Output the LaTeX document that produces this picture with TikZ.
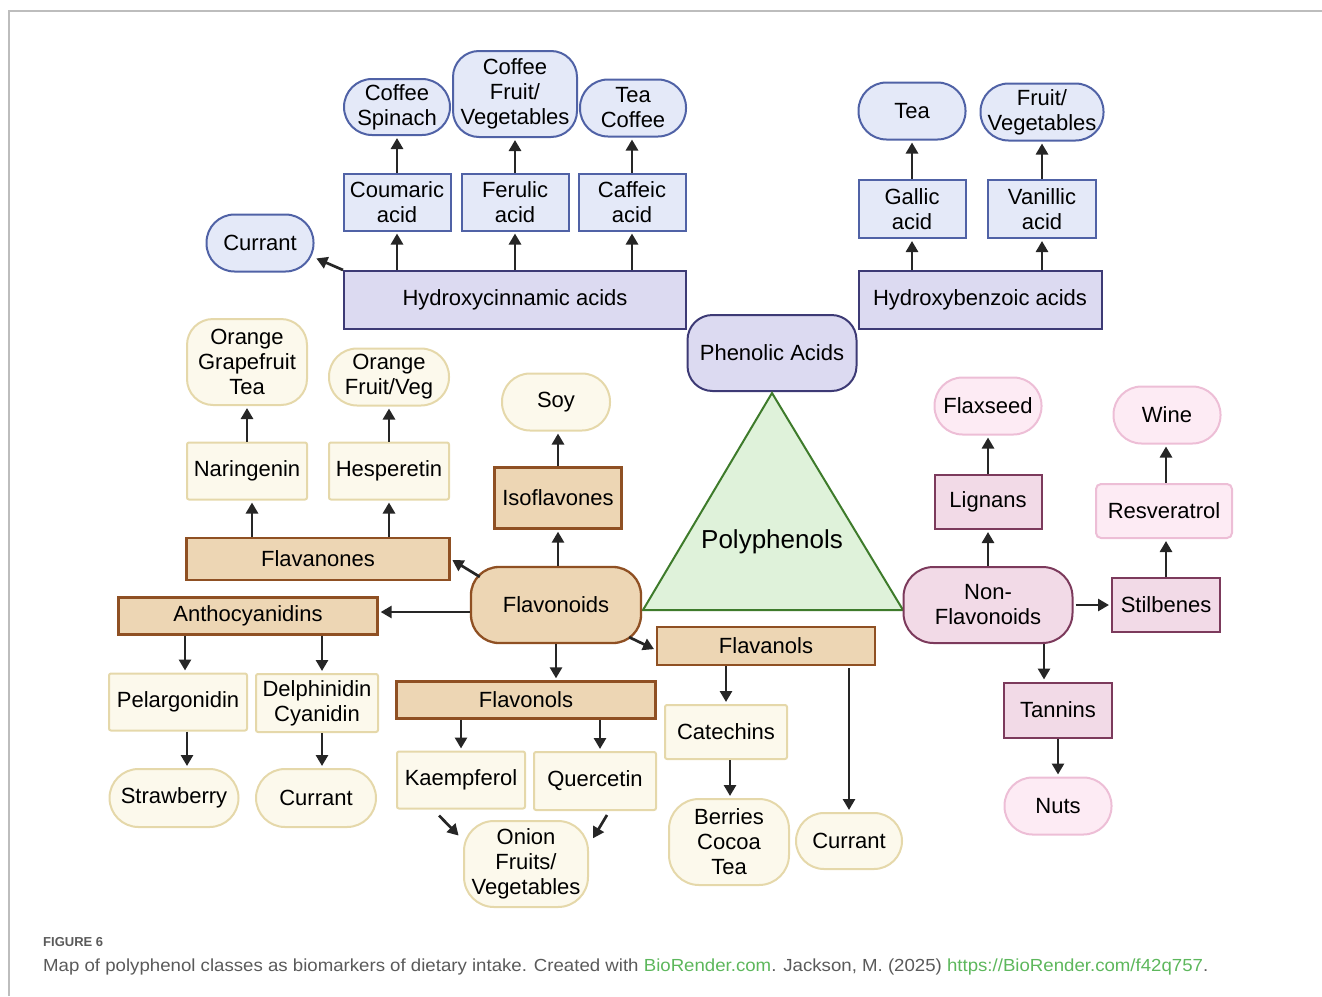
\documentclass[tikz,border=0pt]{standalone}
\usepackage{fontspec}
\setmainfont{Liberation Sans}
\usepackage{graphicx}
\usetikzlibrary{arrows.meta,calc}
\definecolor{blueFill}{HTML}{E4E9F8}
\definecolor{blueLine}{HTML}{5062A6}
\definecolor{lavFill}{HTML}{DCDAF1}
\definecolor{lavLine}{HTML}{3D3A75}
\definecolor{tanFill}{HTML}{EDD6B4}
\definecolor{tanLine}{HTML}{8F5023}
\definecolor{creamFill}{HTML}{FCF9EC}
\definecolor{creamLine}{HTML}{E5D8AA}
\definecolor{pinkFill}{HTML}{F2DAE7}
\definecolor{pinkLine}{HTML}{7C3A5C}
\definecolor{lpinkFill}{HTML}{FDEBF4}
\definecolor{lpinkLine}{HTML}{EDBED6}
\definecolor{triFill}{HTML}{DFF2DA}
\definecolor{triLine}{HTML}{3E7B2B}
\definecolor{arrCol}{HTML}{262626}
\definecolor{capGray}{HTML}{5A5A5A}
\definecolor{capGreen}{HTML}{5DB75C}
\definecolor{frameGray}{HTML}{BDBDBD}
\tikzset{
  basebox/.style={draw, line width=2pt, inner sep=0pt, align=center,
    font=\fontsize{22}{25}\selectfont, text=black},
  bblue/.style={basebox, fill=blueFill, draw=blueLine},
  blav/.style={basebox, fill=lavFill, draw=lavLine},
  btan/.style={basebox, fill=tanFill, draw=tanLine, line width=2.3pt},
  bcream/.style={basebox, fill=creamFill, draw=creamLine, rounded corners=2pt},
  bpink/.style={basebox, fill=pinkFill, draw=pinkLine},
  blpink/.style={basebox, fill=lpinkFill, draw=lpinkLine},
  arr/.style={draw=arrCol, line width=2.7pt, -{Triangle[width=12pt,length=11pt]}, shorten >=2pt},
}
\begin{document}
\begin{tikzpicture}[x=1pt,y=-1pt]
\useasboundingbox (0,0) rectangle (1322,996);
% frame
\draw[frameGray, line width=2pt] (9,996) -- (9,11) -- (1322,11);

% ---- Hydroxycinnamic acids group
\node[bblue, minimum width=106pt, minimum height=56pt, rounded corners=28pt] (cs) at (397,107) {Coffee\\Spinach};
\node[bblue, minimum width=124pt, minimum height=86pt, rounded corners=26pt] (cfv) at (515,94) {Coffee\\Fruit/\\Vegetables};
\node[bblue, minimum width=106pt, minimum height=57pt, rounded corners=28pt] (tc) at (633,108) {Tea\\Coffee};
\node[bblue, minimum width=107pt, minimum height=57pt] (coum) at (397,202) {Coumaric\\acid};
\node[bblue, minimum width=107pt, minimum height=57pt] (fer) at (515,202) {Ferulic\\acid};
\node[bblue, minimum width=107pt, minimum height=57pt] (caf) at (632,202) {Caffeic\\acid};
\node[blav, minimum width=342pt, minimum height=58pt] (hca) at (515,300) {Hydroxycinnamic acids};
\node[bblue, minimum width=107pt, minimum height=57pt, rounded corners=28pt] (cur1) at (260,243) {Currant};

% ---- Hydroxybenzoic acids group
\node[bblue, minimum width=107pt, minimum height=57pt, rounded corners=28pt] (tea) at (912,111) {Tea};
\node[bblue, minimum width=123pt, minimum height=57pt, rounded corners=28pt] (fv) at (1042,112) {Fruit/\\Vegetables};
\node[bblue, minimum width=107pt, minimum height=58pt] (gal) at (912,209) {Gallic\\acid};
\node[bblue, minimum width=108pt, minimum height=58pt] (van) at (1042,209) {Vanillic\\acid};
\node[blav, minimum width=243pt, minimum height=58pt] (hba) at (980,300) {Hydroxybenzoic acids};

% ---- Phenolic acids and triangle
\node[blav, minimum width=169pt, minimum height=76pt, rounded corners=25pt] (pa) at (772,353) {Phenolic Acids};
\draw[fill=triFill, draw=triLine, line width=2pt, line join=miter] (772,393) -- (903,610) -- (643,610) -- cycle;
\node[font=\fontsize{26}{30}\selectfont] (poly) at (772,542) {Polyphenols};

% ---- Flavonoids group
\node[btan, minimum width=170pt, minimum height=76pt, rounded corners=28pt] (flavd) at (556,605) {Flavonoids};
\node[btan, minimum width=127pt, minimum height=61pt] (iso) at (558,498) {Isoflavones};
\node[bcream, minimum width=108pt, minimum height=57pt, rounded corners=28pt] (soy) at (556,402) {Soy};
\node[btan, minimum width=263pt, minimum height=42pt] (flvn) at (318,559) {Flavanones};
\node[bcream, minimum width=120pt, minimum height=57pt] (nar) at (247,471) {Naringenin};
\node[bcream, minimum width=120pt, minimum height=57pt] (hes) at (389,471) {Hesperetin};
\node[bcream, minimum width=120pt, minimum height=86pt, rounded corners=26pt] (ogt) at (247,362) {Orange\\Grapefruit\\Tea};
\node[bcream, minimum width=120pt, minimum height=57pt, rounded corners=28pt] (ofv) at (389,377) {Orange\\Fruit/Veg};
\node[btan, minimum width=259pt, minimum height=37pt] (anth) at (248,616) {Anthocyanidins};
\node[bcream, minimum width=138pt, minimum height=57pt] (pel) at (178,702) {Pelargonidin};
\node[bcream, minimum width=122pt, minimum height=58pt] (dc) at (317,703) {Delphinidin\\Cyanidin};
\node[bcream, minimum width=129pt, minimum height=58pt, rounded corners=29pt] (straw) at (174,798) {Strawberry};
\node[bcream, minimum width=120pt, minimum height=58pt, rounded corners=29pt] (cur2) at (316,798) {Currant};
\node[btan, minimum width=259pt, minimum height=37pt] (flvo) at (526,700) {Flavonols};
\node[bcream, minimum width=128pt, minimum height=57pt] (kae) at (461,780) {Kaempferol};
\node[bcream, minimum width=122pt, minimum height=58pt] (que) at (595,781) {Quercetin};
\node[bcream, minimum width=124pt, minimum height=86pt, rounded corners=30pt] (onion) at (526,864) {Onion\\Fruits/\\Vegetables};
\node[btan, minimum width=218pt, minimum height=38pt] (flvl) at (766,646) {Flavanols};
\node[bcream, minimum width=122pt, minimum height=54pt] (cat) at (726,732) {Catechins};
\node[bcream, minimum width=120pt, minimum height=86pt, rounded corners=30pt] (bct) at (729,842) {Berries\\Cocoa\\Tea};
\node[bcream, minimum width=106pt, minimum height=56pt, rounded corners=28pt] (cur3) at (849,841) {Currant};

% ---- Non-flavonoids group
\node[bpink, minimum width=169pt, minimum height=76pt, rounded corners=30pt] (nonf) at (988,605) {Non-\\Flavonoids};
\node[bpink, minimum width=107pt, minimum height=54pt] (lig) at (988,502) {Lignans};
\node[blpink, minimum width=107pt, minimum height=57pt, rounded corners=28pt] (flax) at (988,406) {Flaxseed};
\node[bpink, minimum width=108pt, minimum height=54pt] (stil) at (1166,605) {Stilbenes};
\node[blpink, minimum width=136pt, minimum height=54pt, rounded corners=5pt] (res) at (1164,511) {Resveratrol};
\node[blpink, minimum width=107pt, minimum height=57pt, rounded corners=28pt] (wine) at (1167,415) {Wine};
\node[bpink, minimum width=108pt, minimum height=55pt] (tan) at (1058,710) {Tannins};
\node[blpink, minimum width=107pt, minimum height=57pt, rounded corners=28pt] (nuts) at (1058,806) {Nuts};

% ---- arrows
\draw[arr] (coum.south |- hca.north) -- (coum.south);
\draw[arr] (fer.south |- hca.north) -- (fer.south);
\draw[arr] (caf.south |- hca.north) -- (caf.south);
\draw[arr] (coum.north) -- (cs.south);
\draw[arr] (fer.north) -- (cfv.south);
\draw[arr] (caf.north) -- (caf.north |- tc.south);
\draw[arr] (hca.north west) -- (cur1.-15);
\draw[arr] (gal.south |- hba.north) -- (gal.south);
\draw[arr] (van.south |- hba.north) -- (van.south);
\draw[arr] (gal.north) -- (tea.south);
\draw[arr] (van.north) -- (fv.south);

\draw[arr] (iso.south |- flavd.north) -- (iso.south);
\draw[arr] (iso.north) -- (iso.north |- soy.south);
\draw[arr] ([xshift=10pt,yshift=-11pt]flavd.north west) -- (flvn.east);
\draw[arr] ([xshift=5pt]nar.south |- flvn.north) -- ([xshift=5pt]nar.south);
\draw[arr] (hes.south |- flvn.north) -- (hes.south);
\draw[arr] (nar.north) -- (ogt.south);
\draw[arr] (hes.north) -- (ofv.south);
\draw[arr] ([yshift=-7pt]flavd.west) -- ([yshift=-7pt]flavd.west -| anth.east);
\draw[arr] ([xshift=7pt]pel.north |- anth.south) -- ([xshift=7pt]pel.north);
\draw[arr] ([xshift=5pt]dc.north |- anth.south) -- ([xshift=5pt]dc.north);
\draw[arr] ([xshift=9pt]pel.south) -- ([xshift=9pt]pel.south |- straw.north);
\draw[arr] ([xshift=5pt]dc.south) -- ([xshift=5pt]dc.south |- cur2.north);
\draw[arr] (flavd.south) -- (flavd.south |- flvo.north);
\draw[arr] (kae.north |- flvo.south) -- (kae.north);
\draw[arr] ([xshift=5pt]que.north |- flvo.south) -- ([xshift=5pt]que.north);
\draw[arr] ([xshift=-22pt,yshift=-6pt]kae.south) -- ([xshift=-3pt,yshift=-17pt]onion.north west);
\draw[arr] ([xshift=12pt,yshift=-4pt]que.south) -- ([xshift=3pt,yshift=-20pt]onion.north east);
\draw[arr] ([xshift=-13pt,yshift=7pt]flavd.south east) -- ([yshift=-4pt]flvl.west);
\draw[arr] (cat.north |- flvl.south) -- (cat.north);
\draw[arr] ([xshift=4pt]cat.south) -- ([xshift=4pt]cat.south |- bct.north);
\draw[arr] ([yshift=-2pt]cur3.north |- flvl.south) -- (cur3.north);

\draw[arr] (nonf.north) -- (lig.south);
\draw[arr] (lig.north) -- (flax.south);
\draw[arr] ([xshift=2pt]nonf.east) -- (stil.west);
\draw[arr] (stil.north) -- (stil.north |- res.south);
\draw[arr] (stil.north |- res.north) -- (stil.north |- wine.south);
\draw[arr] ([xshift=-14pt]tan.north |- nonf.south) -- ([xshift=-14pt]tan.north);
\draw[arr] (tan.south) -- (nuts.north);

% ---- caption
\node[anchor=base west, inner sep=0pt, text=capGray, font=\fontsize{13}{15}\selectfont\bfseries] (figlab) at (43,946) {FIGURE 6};
\node[anchor=base west, inner sep=0pt, text=capGray] (figcap) at (43,971) {\resizebox{1165pt}{\height}{\fontsize{17.5}{20}\selectfont Map of polyphenol classes as biomarkers of dietary intake. Created with \textcolor{capGreen}{BioRender.com}. Jackson, M. (2025) \textcolor{capGreen}{https://BioRender.com/f42q757}.}};
\end{tikzpicture}
\end{document}
